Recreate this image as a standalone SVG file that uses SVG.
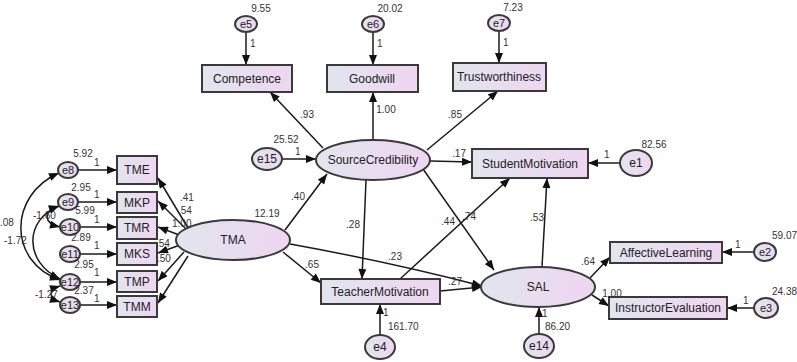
<svg xmlns="http://www.w3.org/2000/svg" width="797" height="362" viewBox="0 0 797 362">
<defs>
<linearGradient id="g" x1="0" y1="0" x2="1" y2="0">
<stop offset="0" stop-color="#e1e5ee"/>
<stop offset="1" stop-color="#efd6f1"/>
</linearGradient>
<marker id="ah" viewBox="0 0 10 8" refX="10" refY="4" markerWidth="11" markerHeight="8" markerUnits="userSpaceOnUse" orient="auto-start-reverse">
<path d="M0,0L10,4L0,8z" fill="#111"/>
</marker>
</defs>
<style>
.n{fill:url(#g);stroke:#3a3a3a;stroke-width:2}
.t{font-family:"Liberation Sans",Arial,sans-serif;font-size:12px;fill:#222;text-anchor:middle}
.ts{font-family:"Liberation Sans",Arial,sans-serif;font-size:11px;fill:#222;text-anchor:middle}
.l{font-family:"Liberation Sans",Arial,sans-serif;font-size:10px;fill:#333}
.lc{font-family:"Liberation Sans",Arial,sans-serif;font-size:10px;fill:#333;text-anchor:middle}
.c{fill:none;stroke:#1a1a1a;stroke-width:1.5;marker-end:url(#ah)}
.cc{fill:none;stroke:#1a1a1a;stroke-width:1.5;marker-end:url(#ah);marker-start:url(#ah)}
</style>
<rect width="797" height="362" fill="#fff"/>

<g id="connectors">
<!-- errors to indicators -->
<path class="c" d="M246,32V65"/>
<path class="c" d="M373,32V65"/>
<path class="c" d="M499,31V63"/>
<path class="c" d="M282,159H316"/>
<path class="c" d="M620,163H588"/>
<path class="c" d="M754,252H722"/>
<path class="c" d="M754,308H727"/>
<path class="c" d="M380,335V304"/>
<path class="c" d="M539,334V307"/>
<path class="c" d="M78,170H117"/>
<path class="c" d="M77,202H117"/>
<path class="c" d="M80,227H117"/>
<path class="c" d="M80,254H117"/>
<path class="c" d="M80,282H117"/>
<path class="c" d="M80,305H117"/>
<!-- covariances -->
<path class="cc" d="M59,173C8,195 8,262 60,280"/>
<path class="cc" d="M59,206C24,220 24,262 60,279"/>
<path class="cc" d="M59,206C43,211 43,223 60,227"/>
<path class="cc" d="M60,286C48,290 48,298 60,302"/>
<!-- structural -->
<path class="c" d="M323,148L270,92"/>
<path class="c" d="M373,140V92"/>
<path class="c" d="M427,150L498,91"/>
<path class="c" d="M430,161L472,162"/>
<path class="c" d="M285,230L327,174"/>
<path class="c" d="M366,180L362,279"/>
<path class="c" d="M283,252L321,283"/>
<path class="c" d="M290,244Q390,262 482,286"/>
<path class="c" d="M440,291L482,287"/>
<path class="c" d="M400,279L510,178"/>
<path class="c" d="M423,169L494,270"/>
<path class="c" d="M542,267L547,178"/>
<path class="c" d="M590,278L610,257"/>
<path class="c" d="M592,295L609,306"/>
<!-- TMA to indicators -->
<path class="c" d="M188,228L158,178"/>
<path class="c" d="M186,229L158,201"/>
<path class="c" d="M182,236L158,227"/>
<path class="c" d="M180,245L158,253"/>
<path class="c" d="M184,252L158,281"/>
<path class="c" d="M188,256L158,303"/>
</g>

<g id="e5"><ellipse class="n" cx="246" cy="24" rx="11" ry="8"/><text class="ts" x="246" y="28">e5</text></g>
<g id="e6"><ellipse class="n" cx="373" cy="24" rx="11" ry="8"/><text class="ts" x="373" y="28">e6</text></g>
<g id="e7"><ellipse class="n" cx="499" cy="23" rx="11" ry="8"/><text class="ts" x="499" y="27">e7</text></g>
<g id="Competence"><rect class="n" x="202" y="65" width="90" height="27"/><text class="t" x="247" y="83">Competence</text></g>
<g id="Goodwill"><rect class="n" x="327" y="65" width="91" height="27"/><text class="t" x="372" y="83">Goodwill</text></g>
<g id="Trustworthiness"><rect class="n" x="453" y="63" width="93" height="28"/><text class="t" x="499" y="81">Trustworthiness</text></g>
<g id="e15"><ellipse class="n" cx="267" cy="159" rx="15" ry="11"/><text class="t" x="267" y="163">e15</text></g>
<g id="SourceCredibility"><ellipse class="n" cx="373" cy="160" rx="57" ry="20"/><text class="t" x="373" y="164">SourceCredibility</text></g>
<g id="StudentMotivation"><rect class="n" x="472" y="149" width="116" height="29"/><text class="t" x="530" y="168">StudentMotivation</text></g>
<g id="e1"><ellipse class="n" cx="636" cy="163" rx="16" ry="13"/><text class="t" x="636" y="167">e1</text></g>
<g id="TMA"><ellipse class="n" cx="233" cy="240" rx="57" ry="20"/><text class="t" x="233" y="244">TMA</text></g>
<g id="TeacherMotivation"><rect class="n" x="321" y="279" width="119" height="25"/><text class="t" x="380" y="296">TeacherMotivation</text></g>
<g id="e4"><ellipse class="n" cx="380" cy="347" rx="15" ry="12"/><text class="t" x="380" y="351">e4</text></g>
<g id="SAL"><ellipse class="n" cx="538" cy="287" rx="57" ry="20"/><text class="t" x="538" y="291">SAL</text></g>
<g id="e14"><ellipse class="n" cx="539" cy="346" rx="15" ry="12"/><text class="t" x="539" y="350">e14</text></g>
<g id="AffectiveLearning"><rect class="n" x="610" y="242" width="112" height="21"/><text class="t" x="666" y="257">AffectiveLearning</text></g>
<g id="InstructorEvaluation"><rect class="n" x="609" y="297" width="118" height="22"/><text class="t" x="668" y="312">InstructorEvaluation</text></g>
<g id="e2"><ellipse class="n" cx="765" cy="252" rx="11" ry="9"/><text class="ts" x="765" y="256">e2</text></g>
<g id="e3"><ellipse class="n" cx="766" cy="308" rx="12" ry="10"/><text class="ts" x="766" y="312">e3</text></g>

<g id="TME"><rect class="n" x="117" y="156" width="40" height="28"/><text class="t" x="137" y="174">TME</text></g>
<g id="MKP"><rect class="n" x="117" y="192" width="40" height="21"/><text class="t" x="137" y="207">MKP</text></g>
<g id="TMR"><rect class="n" x="117" y="217" width="40" height="22"/><text class="t" x="137" y="232">TMR</text></g>
<g id="MKS"><rect class="n" x="117" y="243" width="40" height="22"/><text class="t" x="137" y="258">MKS</text></g>
<g id="TMP"><rect class="n" x="117" y="271" width="40" height="21"/><text class="t" x="137" y="286">TMP</text></g>
<g id="TMM"><rect class="n" x="117" y="296" width="40" height="21"/><text class="t" x="137" y="311">TMM</text></g>
<g id="e8"><ellipse class="n" cx="68" cy="170" rx="10" ry="8"/><text class="ts" x="68" y="174">e8</text></g>
<g id="e9"><ellipse class="n" cx="68" cy="202" rx="10" ry="8"/><text class="ts" x="68" y="206">e9</text></g>
<g id="e10"><ellipse class="n" cx="70" cy="227" rx="10" ry="8"/><text class="ts" x="70" y="231">e10</text></g>
<g id="e11"><ellipse class="n" cx="70" cy="254" rx="10" ry="8"/><text class="ts" x="70" y="258">e11</text></g>
<g id="e12"><ellipse class="n" cx="70" cy="282" rx="10" ry="8"/><text class="ts" x="70" y="286">e12</text></g>
<g id="e13"><ellipse class="n" cx="70" cy="305" rx="10" ry="8"/><text class="ts" x="70" y="309">e13</text></g>

<g id="labels">
<text class="lc" x="261" y="12">9.55</text>
<text class="lc" x="390" y="12">20.02</text>
<text class="lc" x="513" y="11">7.23</text>
<text class="l" x="250" y="47">1</text>
<text class="l" x="377" y="47">1</text>
<text class="l" x="503" y="46">1</text>
<text class="lc" x="286" y="143">25.52</text>
<text class="l" x="295" y="155">1</text>
<text class="lc" x="307" y="118">.93</text>
<text class="lc" x="386" y="113">1.00</text>
<text class="lc" x="455" y="118">.85</text>
<text class="lc" x="459" y="157">.17</text>
<text class="l" x="604" y="158">1</text>
<text class="lc" x="654" y="148">82.56</text>
<text class="lc" x="298" y="200">.40</text>
<text class="lc" x="267" y="217">12.19</text>
<text class="lc" x="353" y="228">.28</text>
<text class="lc" x="448" y="225">.44</text>
<text class="lc" x="469" y="220">.74</text>
<text class="lc" x="537" y="221">.53</text>
<text class="lc" x="312" y="268">.65</text>
<text class="lc" x="395" y="260">.23</text>
<text class="lc" x="455" y="285">.27</text>
<text class="l" x="383" y="316">1</text>
<text class="l" x="388" y="330">161.70</text>
<text class="l" x="542" y="317">1</text>
<text class="l" x="545" y="330">86.20</text>
<text class="lc" x="588" y="265">.64</text>
<text class="lc" x="612" y="297">1.00</text>
<text class="l" x="735" y="248">1</text>
<text class="l" x="772" y="239">59.07</text>
<text class="l" x="743" y="304">1</text>
<text class="l" x="772" y="295">24.38</text>
<text class="lc" x="83" y="157">5.92</text>
<text class="l" x="94" y="166">1</text>
<text class="lc" x="81" y="191">2.95</text>
<text class="l" x="94" y="198">1</text>
<text class="lc" x="85" y="214">5.99</text>
<text class="l" x="94" y="223">1</text>
<text class="lc" x="81" y="241">2.89</text>
<text class="l" x="94" y="249">1</text>
<text class="lc" x="84" y="268">2.95</text>
<text class="l" x="94" y="276">1</text>
<text class="lc" x="84" y="294">2.37</text>
<text class="l" x="94" y="302">1</text>
<text class="l" x="180" y="201">.41</text>
<text class="l" x="178" y="214">.54</text>
<text class="l" x="172" y="227">1.00</text>
<text class="l" x="156" y="247">.54</text>
<text class="l" x="157" y="262">.50</text>
<text class="l" x="0" y="226">.08</text>
<text class="l" x="4" y="244">-1.72</text>
<text class="l" x="33" y="219">-1.60</text>
<text class="l" x="35" y="298">-1.27</text>
</g>
</svg>
